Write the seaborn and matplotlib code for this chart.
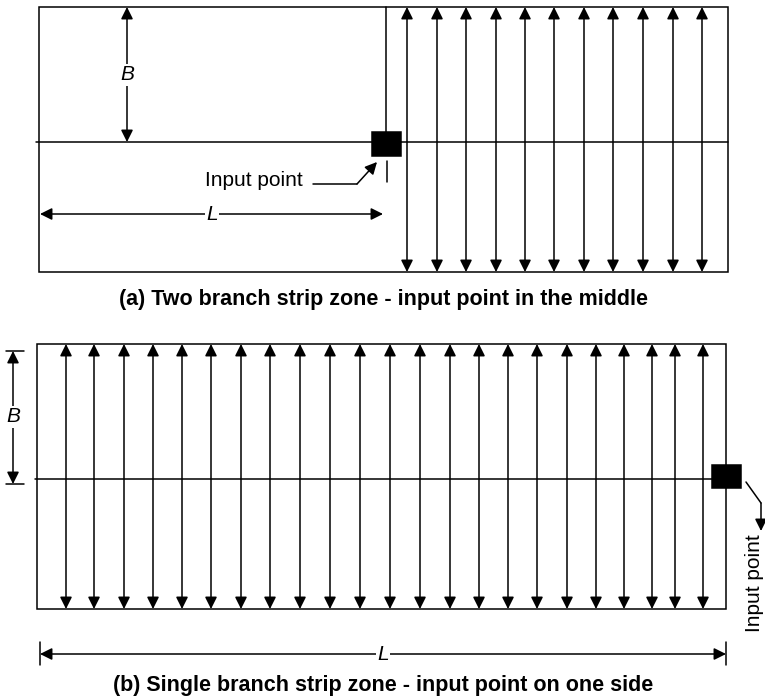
import matplotlib
matplotlib.use("Agg")
import matplotlib.pyplot as plt
import seaborn as sns
import pandas as pd
from matplotlib.patches import Rectangle

sns.set_theme(style="white")
plt.rcParams['font.family'] = ['Liberation Sans', 'DejaVu Sans']
plt.rcParams['text.color'] = 'black'

# ---- data (diagram geometry, pixel space) ----
# panel (a)
a_box = [39, 7, 728, 272]             # left, top, right, bottom
a_mid_y = 142
a_branch_x = [407, 437, 466, 496, 525, 554, 584, 613, 643, 673, 702]
a_input = [372, 132, 401, 156]
a_stem_x = 386
# panel (b)
b_box = [37, 344, 726, 609]
b_mid_y = 479
b_branch_x = [66, 94, 124, 153, 182, 211, 241, 270, 300, 330, 360, 390,
              420, 450, 479, 508, 537, 567, 596, 624, 652, 675, 703]
b_input = [712, 465, 741, 488]

captions = ["(a) Two branch strip zone - input point in the middle",
            "(b) Single branch strip zone - input point on one side"]
label_input = "Input point"

W, H = 765, 697
fig = plt.figure(figsize=(W / 100, H / 100), dpi=100)
ax = fig.add_axes([0, 0, 1, 1])
ax.set_xlim(0, W)
ax.set_ylim(H, 0)
ax.axis('off')

LW = 1.1
ARW = dict(arrowstyle='<|-|>,head_length=0.6,head_width=0.3', color='black',
           lw=LW, mutation_scale=12, shrinkA=0, shrinkB=0)
ARW1 = dict(arrowstyle='-|>,head_length=0.6,head_width=0.3', color='black',
            lw=LW, mutation_scale=12, shrinkA=0, shrinkB=0)


def box(b, fill=False):
    ax.add_patch(Rectangle((b[0], b[1]), b[2] - b[0], b[3] - b[1],
                           fill=fill, facecolor='black', edgecolor='black',
                           lw=LW, zorder=3 if fill else 2))


def dbl_arrow(x0, y0, x1, y1):
    ax.annotate('', xy=(x0, y0), xytext=(x1, y1), arrowprops=ARW)


# ---- panel (a) ----
box(a_box)
mid_a = pd.DataFrame({"x": [36, a_box[2]], "y": [a_mid_y, a_mid_y]})
sns.lineplot(data=mid_a, x="x", y="y", ax=ax, color='black', lw=LW,
             estimator=None, sort=False)
for x in a_branch_x:
    dbl_arrow(x, a_box[1], x, a_box[3])
ax.plot([a_stem_x, a_stem_x], [a_box[1], a_input[1]], color='black', lw=LW)
ax.plot([387, 387], [161, 182], color='black', lw=LW)
box(a_input, fill=True)

# B dimension (a)
dbl_arrow(127, a_box[1], 127, a_mid_y)
ax.text(127, 75, "B", style='italic', fontsize=15, ha='center', va='center',
        color='black', bbox=dict(facecolor='white', edgecolor='none', pad=1))
# L dimension (a)
dbl_arrow(40, 214, 383, 214)
ax.text(212, 214, "L", style='italic', fontsize=15, ha='center', va='center',
        color='black', bbox=dict(facecolor='white', edgecolor='none', pad=1))
# input point label (a)
ax.text(303, 181, label_input, fontsize=15, ha='right', va='center',
        color='black')
ax.plot([313, 357], [184, 184], color='black', lw=LW)
ax.annotate('', xy=(377, 162), xytext=(357, 184), arrowprops=ARW1)

ax.text(384, 300, captions[0], fontsize=15.5, fontweight='bold',
        ha='center', va='center', color='black')

# ---- panel (b) ----
box(b_box)
mid_b = pd.DataFrame({"x": [35, b_input[0]], "y": [b_mid_y, b_mid_y]})
sns.lineplot(data=mid_b, x="x", y="y", ax=ax, color='black', lw=LW,
             estimator=None, sort=False)
for x in b_branch_x:
    dbl_arrow(x, b_box[1], x, b_box[3])
box(b_input, fill=True)

# B dimension (b)
dbl_arrow(13, 351, 13, 484)
ax.plot([6, 24], [351, 351], color='black', lw=LW)
ax.plot([6, 24], [484, 484], color='black', lw=LW)
ax.text(13, 417, "B", style='italic', fontsize=15, ha='center', va='center',
        color='black', bbox=dict(facecolor='white', edgecolor='none', pad=1))
# L dimension (b)
dbl_arrow(40, 654, 726, 654)
ax.plot([40, 40], [642, 665], color='black', lw=LW)
ax.plot([726, 726], [642, 665], color='black', lw=LW)
ax.text(383, 654, "L", style='italic', fontsize=15, ha='center', va='center',
        color='black', bbox=dict(facecolor='white', edgecolor='none', pad=1))
# input point label (b)
ax.plot([746, 761], [482, 503], color='black', lw=LW)
ax.annotate('', xy=(761, 531), xytext=(761, 503), arrowprops=ARW1)
ax.text(755, 534, label_input, fontsize=15, rotation=90,
        ha='center', va='top', color='black')

ax.text(383, 686, captions[1], fontsize=15.5, fontweight='bold',
        ha='center', va='center', color='black')

fig.savefig("out.png", dpi=100)
